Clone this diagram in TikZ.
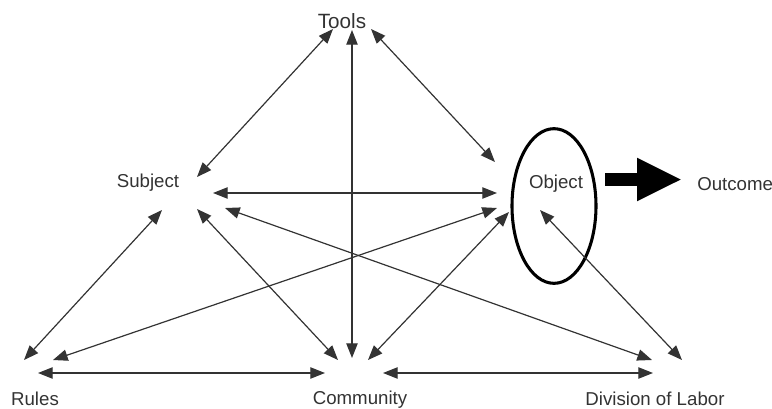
\documentclass[tikz,border=0pt]{standalone}
\usepackage{fontspec}
\setmainfont{Liberation Sans}
\usetikzlibrary{arrows.meta,shapes.geometric}

\begin{document}
\begin{tikzpicture}[x=0.75pt,y=-0.75pt,
	link/.style={line width=0.9pt,black!80,{Triangle[length=11pt,width=8.5pt]}-{Triangle[length=11pt,width=8.5pt]}},
	lbl/.style={text=black!80,font=\fontsize{14}{16}\selectfont,inner sep=0pt}]
	\useasboundingbox (0,0) rectangle (772,408);
	% labels
	\node[lbl,font=\fontsize{15.5}{18}\selectfont] (tools) at (342,21) {Tools};
	\node[lbl] (subj) at (148,183) {Subject};
	\node[lbl] (obj) at (556,184) {Object};
	\node[lbl,anchor=west] (outc) at (697,184) {Outcome};
	\node[lbl] (rules) at (35,399) {Rules};
	\node[lbl] (comm) at (360,400) {Community};
	\node[lbl] (divl) at (655,399) {Division of Labor};
	\node[draw,ellipse,line width=2.3pt,inner sep=0pt,minimum width=63pt,minimum height=116pt] (ring) at (554,206) {};
	% arrow ends
	\coordinate (t1) at (333,29); \coordinate (t2) at (352,30); \coordinate (t3) at (371,29);
	\coordinate (s1) at (197,177); \coordinate (s2) at (213,193); \coordinate (s3) at (162,210);
	\coordinate (s4) at (197,209); \coordinate (s5) at (225,208);
	\coordinate (o1) at (495,162); \coordinate (o2) at (497,193); \coordinate (o3) at (497,208);
	\coordinate (o4) at (509,212); \coordinate (o5) at (540,210);
	\coordinate (r1) at (24,360); \coordinate (r2) at (53,360); \coordinate (r3) at (38,373);
	\coordinate (c1) at (338,360); \coordinate (c2) at (352,358); \coordinate (c3) at (368,360);
	\coordinate (c4) at (325,373); \coordinate (c5) at (383,373);
	\coordinate (d1) at (652,360); \coordinate (d2) at (682,360); \coordinate (d3) at (653,373);
	% links
	\draw[link] (t1)--(s1);
	\draw[link] (t2)--(c2);
	\draw[link] (t3)--(o1);
	\draw[link] (s2)--(o2);
	\draw[link] (s3)--(r1);
	\draw[link] (s4)--(c1);
	\draw[link] (s5)--(d1);
	\draw[link] (r2)--(o3);
	\draw[link] (c3)--(o4);
	\draw[link] (o5)--(d2);
	\draw[link] (r3)--(c4);
	\draw[link] (c5)--(d3);
	% outcome arrow
	\coordinate (bstart) at (605,179.5); \coordinate (bend) at (682,179.5);
	\draw[line width=9.75pt,-{Triangle[length=33.75pt,width=30pt]}] (bstart)--(bend);
\end{tikzpicture}
\end{document}
